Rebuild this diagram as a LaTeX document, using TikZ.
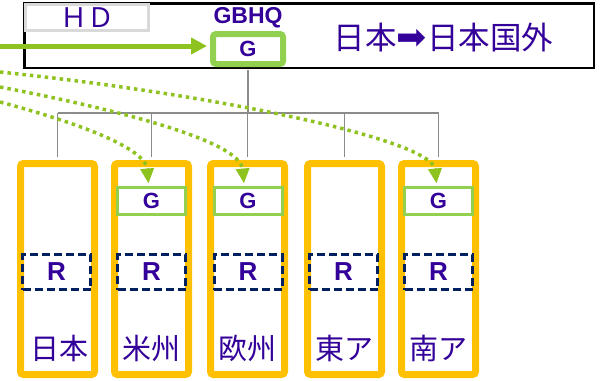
\documentclass[tikz,border=0pt]{standalone}
\usepackage{fontspec}
\setmainfont{Liberation Sans}
\newfontfamily\cjk{Noto Sans CJK JP}
\newfontfamily\dvs{DejaVu Sans}
\usetikzlibrary{arrows.meta}
\definecolor{txtpurple}{HTML}{330099}
\definecolor{navyc}{HTML}{002060}
\definecolor{orng}{HTML}{FFC000}
\definecolor{lgreen}{HTML}{92D050}
\definecolor{agreen}{HTML}{8DC21F}
\definecolor{tgray}{HTML}{8C8C8C}
\definecolor{hdgray}{HTML}{D9D9D9}
\begin{document}
\begin{tikzpicture}[x=1pt,y=-1pt,
 colbox/.style={draw=orng, line width=7pt, rounded corners=3pt, minimum width=74pt, minimum height=211pt, inner sep=0pt},
 gbox/.style={draw=lgreen, line width=3pt, fill=white, minimum width=68pt, minimum height=27pt, inner sep=0pt, font=\fontsize{22}{22}\selectfont\bfseries, text=txtpurple},
 rbox/.style={draw=navyc, line width=3pt, dash pattern=on 8pt off 4pt, minimum width=68pt, minimum height=35pt, inner sep=0pt, font=\fontsize{26}{26}\selectfont\bfseries, text=txtpurple},
 lbl/.style={font=\cjk\fontsize{29}{29}\selectfont, text=txtpurple, inner sep=0pt},
 tree/.style={draw=tgray, line width=1.3pt},
 dotarrow/.style={draw=agreen, line width=3.5pt, dash pattern=on 3.5pt off 4pt, -{Triangle[length=15pt,width=13pt]}},
]
\useasboundingbox (0,0) rectangle (602,380);

% top frame
\node[draw=black, line width=2.5pt, minimum width=569.5pt, minimum height=64.5pt, inner sep=0pt] (frame) at (309,35.5) {};
\node[draw=hdgray, line width=3pt, minimum width=123pt, minimum height=26pt, inner sep=0pt,
      font=\cjk\fontsize{27}{27}\selectfont, text=txtpurple] (hd) at (87,17.5) {ＨＤ};
\node[font=\fontsize{23}{23}\selectfont\bfseries, text=txtpurple, inner sep=0pt] (gbhq) at (248,18) {GBHQ};
\node[draw=lgreen, line width=6pt, rounded corners=3pt, fill=white, minimum width=70pt, minimum height=30pt, inner sep=0pt,
      font=\fontsize{22}{22}\selectfont\bfseries, text=txtpurple] (gtop) at (248,49) {G};
\node[font=\cjk\fontsize{31.5}{31.5}\selectfont, text=txtpurple, inner sep=0pt] (title) at (443.5,37.5)
  {日本{\dvs\fontsize{36}{36}\selectfont ➡}日本国外};

% columns
\node[colbox] (c1) at (57.5,269) {};
\node[colbox] (c2) at (151.5,269) {};
\node[colbox] (c3) at (247.5,269) {};
\node[colbox] (c4) at (344.5,269) {};
\node[colbox] (c5) at (438.5,269) {};

\node[gbox] (g2) at (151.5,201) {G};
\node[gbox] (g3) at (248,201) {G};
\node[gbox] (g5) at (438.5,201) {G};

\node[rbox] (r1) at (56.5,272) {R};
\node[rbox] (r2) at (151.5,272) {R};
\node[rbox] (r3) at (248,272) {R};
\node[rbox] (r4) at (343.5,272) {R};
\node[rbox] (r5) at (438.5,272) {R};

\node[lbl] (l1) at (59,348) {日本};
\node[lbl] (l2) at (151.5,348) {米州};
\node[lbl] (l3) at (247.5,348) {欧州};
\node[lbl] (l4) at (344.5,348) {東ア};
\node[lbl] (l5) at (438.5,348) {南ア};

% tree
\coordinate (bus) at (0,113);
\draw[tree] ([yshift=-3pt]gtop.south) -- (gtop.south |- bus);
\draw[tree] (c1.north |- bus) -- (c5.north |- bus);
\foreach \c in {c1,c2,c3,c4,c5} {
  \draw[tree] (\c.north |- bus) -- ([yshift=3pt]\c.north);
}

% solid arrow
\coordinate (src) at (0,46);
\draw[agreen, line width=5pt, -{Triangle[length=16pt,width=16pt]}] (src) -- ([xshift=-3pt]src -| gtop.west);

% dotted arrows
\coordinate (s1) at (0,72);
\coordinate (s2) at (0,87);
\coordinate (s3) at (0,102);
\draw[dotarrow] (s1) .. controls (220,95) and (432,140) .. ([xshift=-2pt,yshift=2.5pt]g5.north);
\draw[dotarrow] (s2) .. controls (110,108) and (240,140) .. ([xshift=-4pt,yshift=2.5pt]g3.north);
\draw[dotarrow] (s3) .. controls (60,118) and (145,145) .. ([xshift=-3pt,yshift=2.5pt]g2.north);
\end{tikzpicture}
\end{document}
